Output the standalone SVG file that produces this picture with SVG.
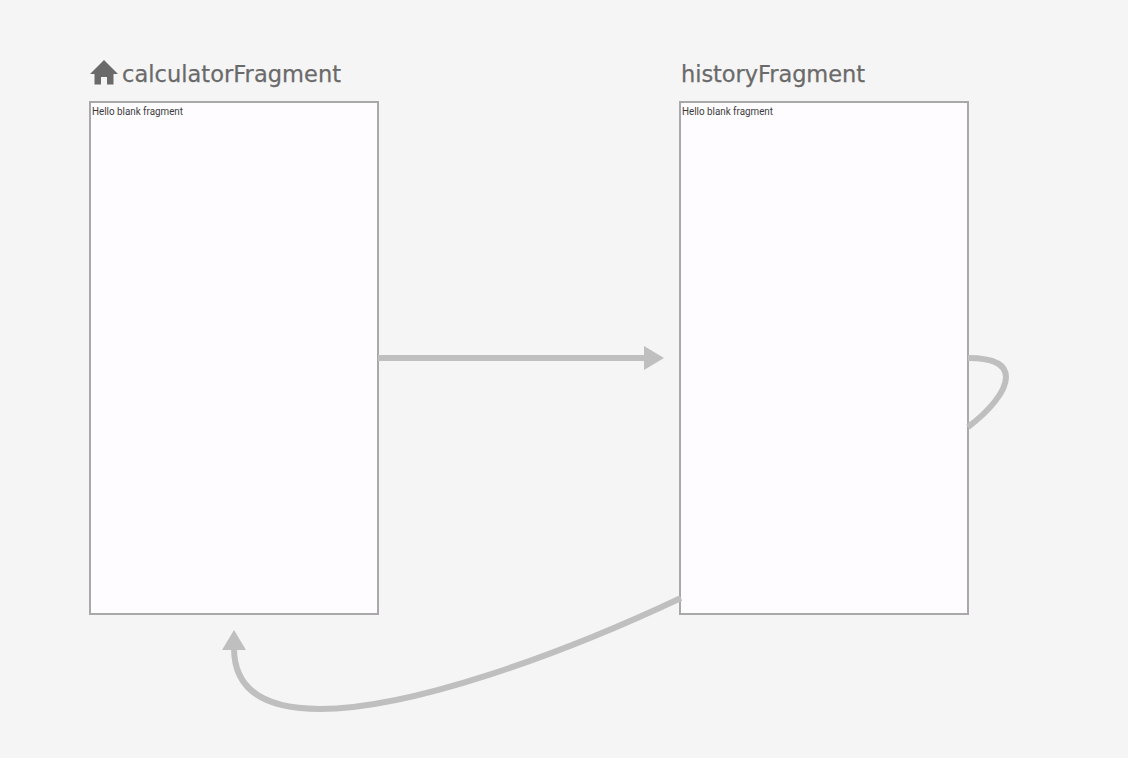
<svg xmlns="http://www.w3.org/2000/svg" width="1128" height="758" viewBox="0 0 1128 758">
<style>
.frame{fill:#fefcff;stroke:#a9a9a9;stroke-width:2}
.title{font-family:"DejaVu Sans","Liberation Sans",sans-serif;font-size:22.500px;fill:#6a6a6a;stroke:#6a6a6a;stroke-width:.25}
.body{font-family:Roboto,"Liberation Sans",sans-serif;font-size:10px;fill:#3c3c3c}
.conn{fill:none;stroke:#bfbfbf;stroke-width:6}
.head{fill:#bfbfbf}
</style>
<rect width="1128" height="758" fill="#f5f5f5"/>
<g id="calculatorFragment">
<path d="M104 60L118 74H113.500V84.500H107V77H101V84.500H94.500V74H90Z" fill="#6a6a6a"/>
<text class="title" x="122" y="82" textLength="219" lengthAdjust="spacing">calculatorFragment</text>
<rect class="frame" x="90" y="102" width="288" height="512"/>
<text class="body" x="92" y="115" textLength="91" lengthAdjust="spacingAndGlyphs">Hello blank fragment</text>
</g>
<g id="historyFragment">
<text class="title" x="681" y="82" textLength="184" lengthAdjust="spacing">historyFragment</text>
<rect class="frame" x="680" y="102" width="288" height="512"/>
<text class="body" x="682" y="115" textLength="91" lengthAdjust="spacingAndGlyphs">Hello blank fragment</text>
</g>
<g id="connectors">
<path class="conn" d="M378 358H646"/>
<polygon class="head" points="644,346 664,358 644,370"/>
<path class="conn" d="M968 358C994 358 1006 364 1006 377C1006 392 988 412 968 427"/>
<path class="conn" d="M681 598C560 655 410 709 320 709C262 709 234 688 234 648"/>
<polygon class="head" points="222,650 234,630 246,650"/>
</g>
</svg>
